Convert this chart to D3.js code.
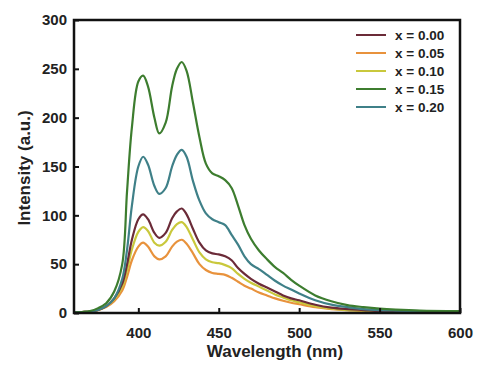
<!DOCTYPE html>
<html><head><meta charset="utf-8">
<script src="https://cdn.jsdelivr.net/npm/d3@7"></script>
<style>
body{margin:0;background:#fff;}
svg{display:block;}
text{font-family:"Liberation Sans",Arial,sans-serif;font-weight:bold;fill:#222;}
</style></head>
<body>
<script>
const wavelengths = [360,365,370,375,380,385,390,393,396,400,403,406,410,413,417,421,424,427,430,434,438,442,446,450,454,458,462,466,470,475,480,485,490,495,500,510,520,530,540,550,560,575,600];
const seriesNames = ["x = 0.00","x = 0.05","x = 0.10","x = 0.15","x = 0.20"];
const seriesColors = ["#6b2b38","#e8923c","#c9c83c","#3d7d2f","#3f8088"];
const x000 = [0.5,1,1.5,3,7,15,30,50,75,96,101,96,82,77,82,97,104,107,101,86,72,64,61,60,58,54,46,40,35,30,26,22,18,15,13,8.5,5.5,4,3,2,1.5,1,1];
const x005 = [0.5,1,1.5,3,6,12,23,37,54,68,72,68,58,55,58,68,73,75,71,61,50,44,41,40,39,36,32,28,25,21,18,15,12.5,10.5,9,6,4,3,2,1.5,1,1,1];
const x010 = [0.5,1,1.5,3,7,14,27,44,65,83,88,84,72,69,73,85,91,93,88,75,62,55,52,51,49,46,40,35,31,27,23,19,16,13,11,7,4.5,3,2.5,2,1.5,1,1];
const x015 = [0.5,1,2,5,10,22,50,125,190,237,243,232,200,184,195,232,250,257,248,215,180,153,143,140,136,128,110,90,76,64,55,47,41,34,28,18,12,8,6,4.5,3.5,2.5,2];
const x020 = [0.5,1,1.5,3,7,15,35,65,110,150,160,152,130,122,128,150,162,167,160,135,115,102,96,93,90,80,70,58,50,45,39,33,28,24,20,13,8.5,6,4,3,2.5,2,1.5];
const seriesValues = [x000,x005,x010,x015,x020];
const xTicks = [400,450,500,550,600];
const yTicks = [0,50,100,150,200,250,300];

const W=500,H=368;
const m={l:74,r:40,t:20,b:55};
const svg=d3.select("body").append("svg").attr("width",W).attr("height",H);
const x=d3.scaleLinear().domain([360,600]).range([m.l,W-m.r]);
const y=d3.scaleLinear().domain([0,300]).range([H-m.b,m.t]);

const line=d3.line().x((d,i)=>x(wavelengths[i])).y(d=>y(d)).curve(d3.curveCatmullRom);
const order=[1,2,0,4,3];
order.forEach(k=>{
  svg.append("path").datum(seriesValues[k]).attr("d",line)
    .attr("fill","none").attr("stroke",seriesColors[k]).attr("stroke-width",2.2)
    .attr("stroke-linejoin","round");
});

const xa=svg.append("g").attr("transform",`translate(0,${H-m.b})`)
  .call(d3.axisBottom(x).tickValues(xTicks).tickSizeInner(-5).tickSizeOuter(0).tickPadding(14));
const ya=svg.append("g").attr("transform",`translate(${m.l},0)`)
  .call(d3.axisLeft(y).tickValues(yTicks).tickSizeInner(-5).tickSizeOuter(0).tickPadding(7));
[xa,ya].forEach(a=>{
  a.select(".domain").remove();
  a.selectAll(".tick line").attr("stroke","#111").attr("stroke-width",2);
  a.selectAll(".tick text").style("font-size","15px").style("font-family","Liberation Sans, Arial, sans-serif").style("font-weight","bold").attr("fill","#222");
});

svg.append("rect").attr("x",m.l).attr("y",m.t).attr("width",W-m.r-m.l).attr("height",H-m.b-m.t)
  .attr("fill","none").attr("stroke","#111").attr("stroke-width",2.5);

svg.append("text").attr("x",(m.l+W-m.r)/2+8).attr("y",357).attr("text-anchor","middle")
  .style("font-size","17px").text("Wavelength (nm)");
svg.append("text").attr("transform",`translate(30,${168}) rotate(-90)`).attr("text-anchor","middle")
  .style("font-size","17px").text("Intensity (a.u.)");

const lg=svg.append("g");
seriesNames.forEach((n,i)=>{
  const yy=35+i*18;
  lg.append("line").attr("x1",356).attr("x2",386).attr("y1",yy).attr("y2",yy)
    .attr("stroke",seriesColors[i]).attr("stroke-width",2);
  lg.append("text").attr("x",395).attr("y",yy+5).style("font-size","13.5px").text(n);
});
</script>
</body></html>
